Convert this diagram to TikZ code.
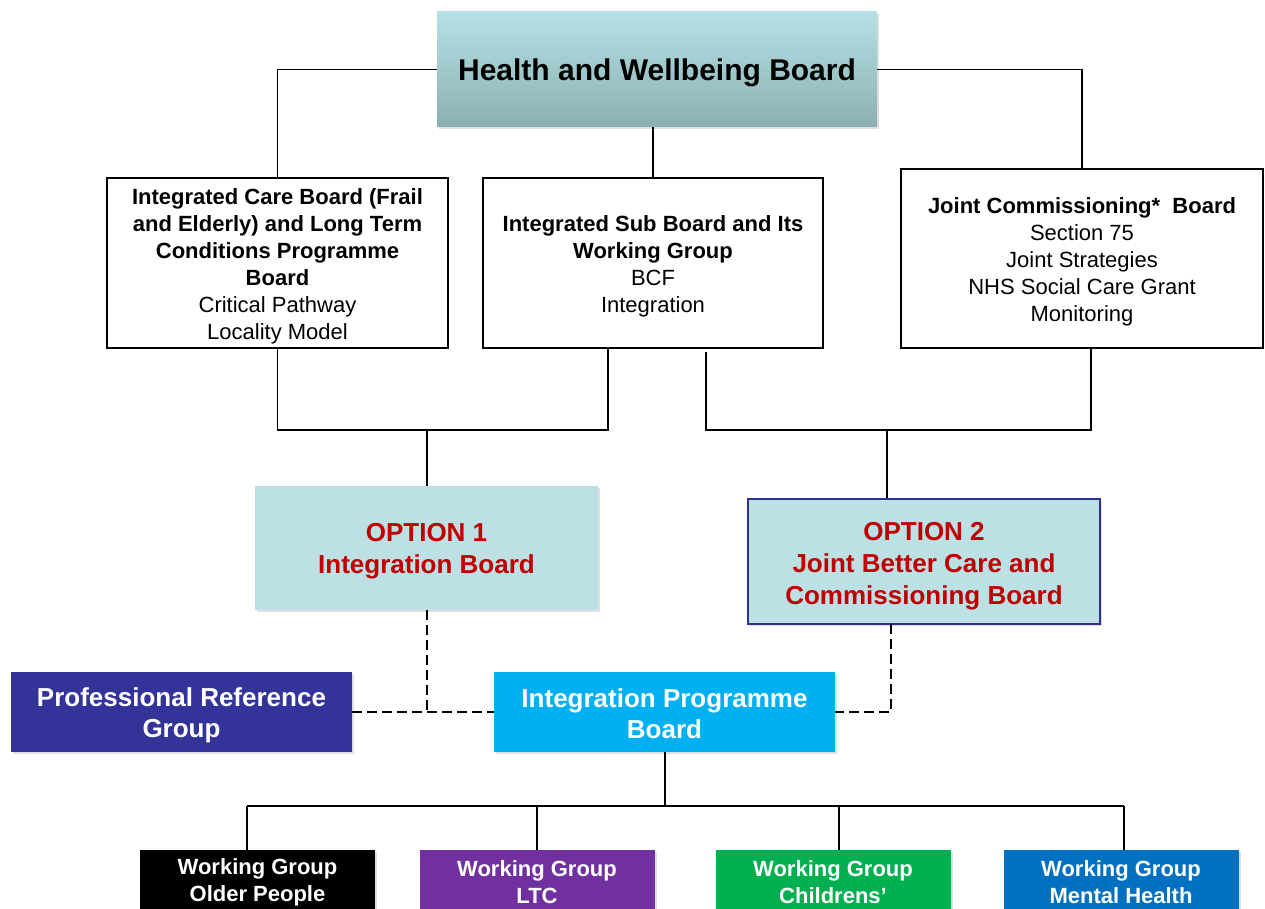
\documentclass[tikz,border=0pt]{standalone}
\usepackage{fontspec}
\setmainfont{Liberation Sans}
\usetikzlibrary{shadows,calc}
\definecolor{hwbtop}{RGB}{180,225,229}
\definecolor{hwbbot}{RGB}{140,176,178}
\definecolor{optfill}{RGB}{188,224,227}
\definecolor{optred}{RGB}{192,0,0}
\definecolor{optborder}{RGB}{46,49,146}
\definecolor{prgfill}{RGB}{51,51,153}
\definecolor{ipbfill}{RGB}{0,176,240}
\definecolor{wgpurple}{RGB}{112,48,160}
\definecolor{wggreen}{RGB}{0,176,80}
\definecolor{wgblue}{RGB}{0,112,192}
\newcommand{\tstr}[1]{\rule{0pt}{#1}}
\tikzset{
  shad/.style={drop shadow={opacity=0.25,shadow xshift=2pt,shadow yshift=-2pt}},
  wbox/.style={draw=black,line width=1.3pt,fill=white,align=center,inner sep=0pt,
    font=\fontsize{22}{27}\selectfont},
  optbox/.style={fill=optfill,shad,align=center,inner sep=0pt,text=optred,
    font=\fontsize{26}{32}\selectfont\bfseries},
  midbox/.style={shad,align=center,inner sep=0pt,text=white,
    font=\fontsize{26}{31}\selectfont\bfseries},
  wgbox/.style={shad,align=center,inner sep=0pt,text=white,minimum width=235pt,minimum height=64pt,
    font=\fontsize{22}{27}\selectfont\bfseries},
  conn/.style={draw=black,line width=1.3pt},
  dconn/.style={draw=black,line width=1.3pt,dash pattern=on 10pt off 5pt},
}
\begin{document}
\begin{tikzpicture}[x=1pt,y=-1pt]
\useasboundingbox (0,0) rectangle (1265,909);
\clip (0,0) rectangle (1265,909);
\fill[white] (0,0) rectangle (1265,909);

% top
\node[shad,top color=hwbtop,bottom color=hwbbot,minimum width=440pt,minimum height=115pt,inner sep=0pt,
  font=\fontsize{30}{36}\selectfont\bfseries] (hwb) at (657,69.5) {\tstr{28pt}Health and Wellbeing Board};

\node[wbox,minimum width=341pt,minimum height=170pt] (b1) at (277.5,263)
  {\tstr{22pt}\textbf{Integrated Care Board (Frail}\\\textbf{and Elderly) and Long Term}\\\textbf{Conditions Programme}\\\textbf{Board}\\Critical Pathway\\Locality Model};
\node[wbox,minimum width=340pt,minimum height=170pt] (b2) at (653,263)
  {\tstr{22pt}\textbf{Integrated Sub Board and Its}\\\textbf{Working Group}\\BCF\\Integration};
\node[wbox,minimum width=362pt,minimum height=179pt] (b3) at (1082,258.5)
  {\tstr{22pt}\textbf{Joint Commissioning*\ \ Board}\\Section 75\\Joint Strategies\\NHS Social Care Grant\\Monitoring};

\node[optbox,minimum width=343pt,minimum height=124pt] (o1) at (426.5,548) {\tstr{25pt}OPTION 1\\Integration Board};
\node[optbox,draw=optborder,line width=1.5pt,minimum width=352pt,minimum height=125pt] (o2) at (924,561.5)
  {\tstr{27pt}OPTION 2\\Joint Better Care and\\Commissioning Board};

\node[midbox,fill=prgfill,minimum width=341pt,minimum height=80pt] (prg) at (181.5,712) {\tstr{25pt}Professional Reference\\Group};
\node[midbox,fill=ipbfill,minimum width=341pt,minimum height=80pt] (ipb) at (664.5,712) {\tstr{22pt}Integration Programme\\Board};

\node[wgbox,fill=black] (w1) at (257.5,882) {\tstr{16pt}Working Group\\Older People};
\node[wgbox,fill=wgpurple] (w2) at (537,882) {\tstr{16pt}Working Group\\LTC};
\node[wgbox,fill=wggreen] (w3) at (833,882) {\tstr{16pt}Working Group\\Childrens’};
\node[wgbox,fill=wgblue] (w4) at (1121,882) {\tstr{16pt}Working Group\\Mental Health};

% coordinates
\coordinate (b2l) at (608,348);
\coordinate (b2r) at (706,352);
\coordinate (b3b) at (1091,348);
\coordinate (j1) at (427,430);
\coordinate (j2) at (887,430);
\coordinate (o2b) at (891,624);
\coordinate (d1) at (427,712);
\coordinate (bus) at (665,806);
\coordinate (k1) at (247,806);
\coordinate (k2) at (537,806);
\coordinate (k3) at (839,806);
\coordinate (k4) at (1124,806);

% connectors
\draw[conn] (hwb.west) -| (b1.north);
\draw[conn] (hwb.east) -| (b3.north);
\draw[conn] (hwb.south -| b2.north) -- (b2.north);
\draw[conn] (b1.south) |- (j1) -| (b2l);
\draw[conn] (j1) -- (j1 |- o1.north);
\draw[conn] (b2r) |- (j2) -| (b3b);
\draw[conn] (j2) -- (j2 |- o2.north);
\draw[dconn] (o1.south -| d1) -- (d1);
\draw[dconn] (prg.east) -- (ipb.west);
\draw[dconn] (o2b) |- (ipb.east);
\draw[conn] (ipb.south -| bus) -- (bus);
\draw[conn] (k1) -- (k4);
\draw[conn] (k1) -- (k1 |- w1.north);
\draw[conn] (k2) -- (k2 |- w2.north);
\draw[conn] (k3) -- (k3 |- w3.north);
\draw[conn] (k4) -- (k4 |- w4.north);
\end{tikzpicture}
\end{document}
